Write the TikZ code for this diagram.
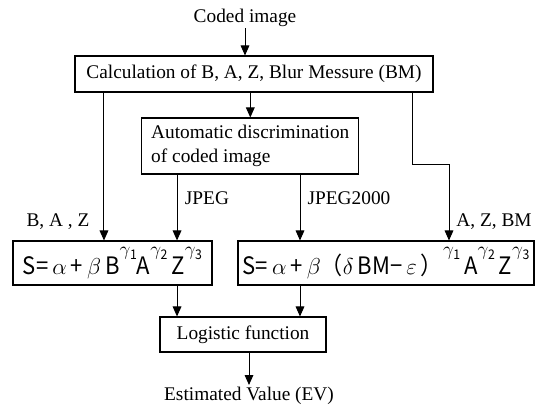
\documentclass[tikz,border=0pt]{standalone}
\usepackage{fontspec}
\setmainfont{Liberation Serif}
\newfontfamily\gothic[FakeStretch=0.92]{Noto Sans CJK JP}
\usepackage{tikz}
\usetikzlibrary{positioning, arrows.meta}

% raised gamma exponent with its index
\newcommand{\gexp}[1]{\raisebox{14.5pt}{\fontsize{14}{14}\selectfont$\gamma$\kern-0.3pt\raisebox{-3.5pt}{\fontsize{10}{10}\selectfont\gothic#1}}}

\begin{document}
\begin{tikzpicture}[x=0.75pt, y=-0.75pt,
  box/.style={draw, line width=0.8pt, inner sep=0pt, font=\fontsize{14.5}{17.5}\selectfont},
  form/.style={box, font=\gothic\fontsize{18}{20}\selectfont},
  lbl/.style={inner sep=1pt, font=\fontsize{14.5}{17.5}\selectfont},
  arr/.style={line width=0.75pt, -{Triangle[length=7.5pt,width=6.5pt]}}]
\useasboundingbox (0,0) rectangle (550,408);

% boxes
\node[box, minimum width=268.5pt, minimum height=27pt] (calc) at (254,74) {Calculation of B, A, Z, Blur Messure (BM)};
\node[box, minimum width=162.75pt, minimum height=42pt, align=left] (auto) at (250.3,146) {Automatic discrimination\\of coded image};
\node[form, minimum width=149.25pt, minimum height=33pt] (lform) at (112.5,263) {S=\,$\alpha$\,+\,$\beta$\,B\gexp{1}A\gexp{2}\,Z\gexp{3}};
\node[form, minimum width=222pt, minimum height=33pt] (rform) at (386,263) {S=\,$\alpha$\,+\,$\beta$（$\delta$\,BM−\,$\varepsilon$\,）\gexp{1}\,A\gexp{2}\,Z\gexp{3}};
\node[box, minimum width=124.5pt, minimum height=26.25pt] (logi) at (243,334.5) {Logistic function};

% input and output
\node[lbl, anchor=south] (coded) at (245,28) {Coded image};
\node[lbl, anchor=north] (ev) at (249,385) {Estimated Value (EV)};

% labels on the branches
\node[lbl] (bazlbl) at (58,222) {B, A , Z};
\node[lbl] (azbmlbl) at (494,222) {A, Z, BM};
\node[lbl] (jpeglbl) at (207,198) {JPEG};
\node[lbl] (j2klbl) at (349,198) {JPEG2000};

% entry points on the formula boxes
\coordinate (lform-a) at ([xshift=-6.4pt]lform.north);
\coordinate (lform-b) at ([xshift=48.4pt]lform.north);
\coordinate (rform-a) at ([xshift=-64.5pt]rform.north);
\coordinate (rform-b) at ([xshift=47.25pt]rform.north);

% arrows
\draw[arr] (coded.south) -- (coded.south |- calc.north);
\draw[arr] (calc.south -| auto.north) -- (auto.north);
\draw[arr] (calc.south -| lform-a) -- (lform-a);
\draw[arr] (auto.south -| lform-b) -- (lform-b);
\draw[arr] (auto.south -| rform-a) -- (rform-a);
\draw[arr] ([xshift=118.5pt]calc.south) -- ++(0,-54pt) -| (rform-b);
\draw[arr] (lform.south -| lform-b) -- (logi.north -| lform-b);
\draw[arr] (rform.south -| rform-a) -- (logi.north -| rform-a);
\draw[arr] (logi.south -| ev.north) -- (ev.north);
\end{tikzpicture}
\end{document}
